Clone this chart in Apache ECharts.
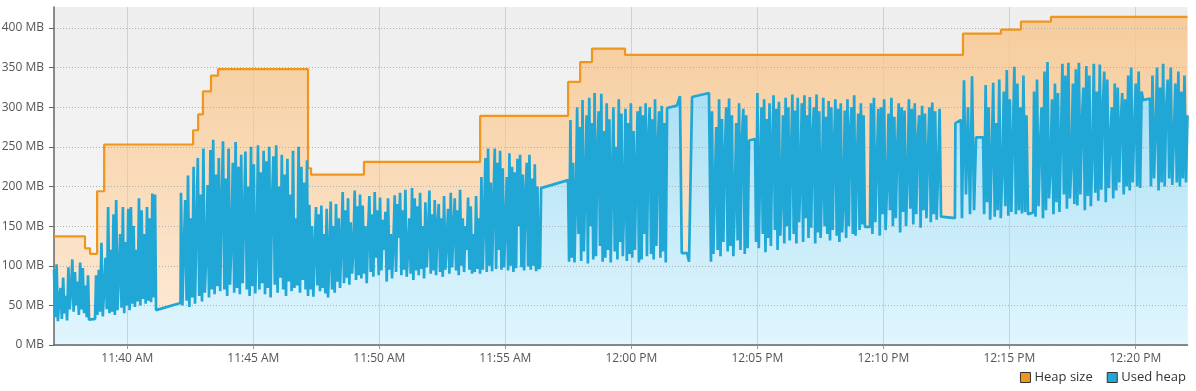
<!DOCTYPE html>
<html><head><meta charset="utf-8">
<script src="https://cdn.jsdelivr.net/npm/echarts@6/dist/echarts.min.js"></script>
<style>html,body{margin:0;padding:0;background:#fff}#c{width:1196px;height:391px}</style>
</head><body><div id="c"></div><script>
// time in minutes after 11:00
const xTicks = [40, 45, 50, 55, 60, 65, 70, 75, 80];
const xTickLabels = ['11:40 AM', '11:45 AM', '11:50 AM', '11:55 AM', '12:00 PM', '12:05 PM', '12:10 PM', '12:15 PM', '12:20 PM'];
const yTicks = [0, 50, 100, 150, 200, 250, 300, 350, 400];

const heapTimes = [37.09, 38.32, 38.52, 38.80, 39.08, 42.61, 42.81, 43.00, 43.32, 43.60, 47.17, 47.29, 49.39, 54.00, 57.49, 57.97, 58.44, 59.75, 73.16, 74.67, 75.46, 76.65, 82.07];
const heapValues = [137, 122, 115, 194, 253, 271, 291, 320, 340, 348, 223, 215, 231, 289, 332, 357, 374, 366, 393, 398, 408, 414, 414];

const usedNoisy1 = [95,35,102,30,58,72,33,85,40,62,31,98,45,70,108,42,92,50,80,38,104,45,97,40,75,35,88];
const usedPoints1 = [[38.48,32],[38.72,33]];
const usedNoisy2 = [88,38,95,42,129,36,70,110,45,174,40,120,42,165,38,183,44,90,140,47,174,40,130,50,172,44,174,52,150,48,120,55,185,50,170,58,140,52,174,56,160,54,191,60,190];
const usedPoints2 = [[41.14,44],[42.11,53]];
const usedNoisy3 = [192,50,120,183,56,214,48,160,60,225,52,150,236,62,190,55,248,66,110,202,60,246,70,259,64,215,74,236,68,180,257,70,210,62,248,76,130,230,66,256,72,225,64,240,78,160,244,70,200,62,250,74,228,65,120,252,70,218,78,245,64,232,72,250,60,180,238,76,252,66,200,85,240,70,215,62,235,80,190,68,245,72,160,75,250,66,225,82,205,70,233];
const usedNoisy4 = [62,177,70,150,61,120,174,75,165,68,176,72,140,65,172,60,110,181,70,150,66,178,80,160,72,130,193,78,170,85,185,76,155,90,120,195,82,175,88,190,84,176,90,150,78,140,188,92,165,86,193,110,170,88,186,94,158,120,168,80,185,95,140,84,130,189,92,178,135,192,88,170,95,196,86,120,160,90,198,82,185,94,175,88,192,96,150,84,180,98,140,195,90,165,94,183,88,150,178,92,160,86,188,95,130,172,90,192,98,145,185,94,170,88,196,100,160,92,150,120,186,95,175,90,140,92,188,96,160,90,
  212,95,160,236,92,248,100,205,93,180,248,96,230,120,245,95,223,98,150,212,94,242,100,225,92,218,97,235,150,240,98,215,94,190,230,99,240,95,210,100,228,93,200,96,99];
const usedPoints3 = [[56.42,198],[57.49,208]];
const usedNoisy5 = [105,284,110,230,104,180,300,140,275,106,309,118,200,290,103,312,150,280,108,318,112,240,295,125,317,105,270,110,305,120,285,104,210,300,118,250,108,310,130,292,112,180,298,106,280,115,305,110,270,120,220,295,104,301,108,290,140,305,112,260,300,115,285,108,310,125,250,295,110,302,118,280,104,299];
const usedPoints4 = [[61.81,302],[61.93,314],[62.0,116],[62.21,116],[62.29,105],[62.41,313],[63.08,318],[63.16,105]];
const usedNoisy6 = [295,115,200,275,120,310,112,285,130,240,300,118,311,125,290,112,180,280,132,305,120,260,298,115,290,122,258];
const usedPoints5 = [[64.91,260]];
const usedNoisy7 = [130,318,122,220,300,140,310,117,285,135,305,125,250,315,145,298,120,307,138,190,290,128,312,150,300,132,240,316,140,296,128,312,155,210,305,130,315,160,290,135,313,148,260,300,128,316,142,295,135,200,312,150,288,140,308,132,300,145,250,310,138,298,130,305,142,180,296,135,310,150,270,300,140,315,138,230,292,145,305,152,290,149];
const usedPoints6 = [[69.47,149]];
const usedNoisy8 = [305,140,312,155,230,298,138,300,165,310,145,200,292,170,312,150,288,160,250,305,142,300,168,296,150,210,310,172,298,152,305,165,260,290,148,302,170,292,160,240,300,155,306,165,295,158,220,298,162];
const usedPoints7 = [[72.84,160],[72.86,280],[73.08,284]];
const usedNoisy9 = [160,334,190,300,165,339,170,262];
const usedPoints8 = [[73.96,262]];
const usedNoisy10 = [165,328,180,300,158,240,331,162,280,170,335,160,220,320,175,347,163,310,168,260,351,165,330,170,300,166,340,168,290,165];
const usedPoints9 = [[75.94,167]];
const usedNoisy11 = [320,162,335,175,250,300,160,345,170,357,185,220,310,165,330,180,318,168,260,355,190,340,172,356,185,230,330,178,348,176,356,190,280,325,170,352,188,340,175,240,355,192,320,182,354,196,300,345,180,335,198,260,300,185,330,195,325,205,280,318,190,310,200,340,195,350,205,270,330,200,345,198,320,309];
const usedPoints10 = [[80.58,311]];
const usedNoisy12 = [200,340,210,270,350,195,325,205,355,200,300,335,210,350,202,260,330,205,345,200,320,210,340,205,290];

// pieces: [startTime, endTime, values] for sampled stretches, or explicit points
const usedPieces = [
  [37.09, 38.44, usedNoisy1], usedPoints1,
  [38.76, 41.10, usedNoisy2], usedPoints2,
  [42.13, 47.13, usedNoisy3],
  [47.17, 56.38, usedNoisy4], usedPoints3,
  [57.53, 61.42, usedNoisy5], usedPoints4,
  [63.20, 64.67, usedNoisy6], usedPoints5,
  [64.95, 69.27, usedNoisy7], usedPoints6,
  [69.51, 72.29, usedNoisy8], usedPoints7,
  [73.12, 73.68, usedNoisy9], usedPoints8,
  [74.00, 75.74, usedNoisy10], usedPoints9,
  [75.98, 80.31, usedNoisy11], usedPoints10,
  [80.62, 82.07, usedNoisy12]
];

const usedData = [];
usedPieces.forEach(p => {
  if (typeof p[0] === 'number') {
    const [t0, t1, vals] = p;
    const n = vals.length;
    vals.forEach((v, i) => usedData.push([t0 + (n > 1 ? i * (t1 - t0) / (n - 1) : 0), v]));
  } else {
    p.forEach(pt => usedData.push(pt));
  }
});
const heapData = heapTimes.map((t, i) => [t, heapValues[i]]);

const FONT = 'Open Sans';
const ORANGE = '#f0961e';
const BLUE = '#21a7d6';
const grad = (a, b) => new echarts.graphic.LinearGradient(0, 0, 0, 1, [{offset: 0, color: a}, {offset: 1, color: b}]);

const chart = echarts.init(document.getElementById('c'), null, {renderer: 'canvas'});
chart.setOption({
  animation: false,
  textStyle: {fontFamily: FONT},
  grid: {left: 54, right: 8.5, top: 7, bottom: 46, show: true, borderWidth: 0,
         backgroundColor: grad('#eeeeee', '#f8f8f8'), outerBoundsMode: 'none'},
  legend: {
    right: 5, bottom: 2, icon: 'rect', itemWidth: 10, itemHeight: 10, itemGap: 14,
    selectedMode: false,
    textStyle: {fontFamily: FONT, fontSize: 13, color: '#333', padding: [0, 0, 0, -1]},
    data: [
      {name: 'Heap size', itemStyle: {color: ORANGE, borderColor: '#333', borderWidth: 1}},
      {name: 'Used heap', itemStyle: {color: BLUE, borderColor: '#333', borderWidth: 1}}
    ]
  },
  xAxis: {
    type: 'value', min: 37.09, max: 82.07, z: 3,
    axisLine: {show: true, onZero: false, lineStyle: {color: '#666', width: 1.5}},
    axisTick: {show: true, length: 4, customValues: xTicks, lineStyle: {color: '#999'}},
    axisLabel: {customValues: xTicks, color: '#555', fontSize: 12, margin: 8, fontFamily: FONT,
                formatter: v => xTickLabels[xTicks.indexOf(Math.round(v))] || ''},
    splitLine: {show: true, lineStyle: {color: '#d0d0d0', width: 1, type: 'solid'}}
  },
  yAxis: {
    type: 'value', min: 0, max: 426.5, z: 3,
    axisLine: {show: true, lineStyle: {color: '#666', width: 1.5}},
    axisTick: {show: true, length: 5, customValues: yTicks, lineStyle: {color: '#666'}},
    axisLabel: {customValues: yTicks, color: '#555', fontSize: 12, margin: 10, fontFamily: FONT,
                formatter: v => v + ' MB'},
    splitLine: {show: true, lineStyle: {color: '#b0b0b0', width: 1, type: [1, 2]}}
  },
  series: [
    {name: 'Heap size', type: 'line', step: 'end', data: heapData, showSymbol: false, z: 1,
     color: ORANGE, lineStyle: {width: 0, opacity: 0},
     areaStyle: {color: grad('#f6cc9c', '#fdebd8'), opacity: 1}},
    {name: 'Used heap', type: 'line', data: usedData, showSymbol: false, z: 2,
     color: BLUE, lineStyle: {width: 0, opacity: 0},
     areaStyle: {color: grad('#a4ddf3', '#e1f6fe'), opacity: 1}},
    {name: 'Heap size', type: 'line', step: 'end', data: heapData, showSymbol: false, z: 4,
     color: ORANGE, lineStyle: {width: 2.2, color: ORANGE}},
    {name: 'Used heap', type: 'line', data: usedData, showSymbol: false, z: 5,
     color: BLUE, lineStyle: {width: 2.7, color: BLUE}}
  ]
});
</script></body></html>
